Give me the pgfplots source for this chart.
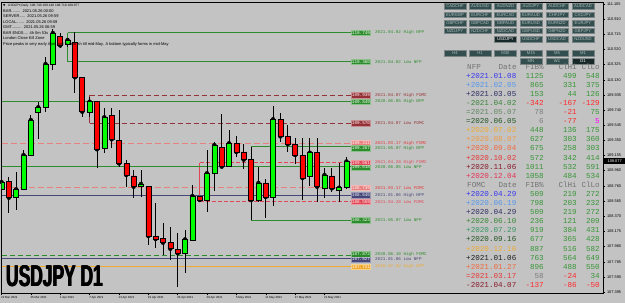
\documentclass[border=0pt]{standalone}
\usepackage{fontspec}
\setmainfont{Liberation Sans}
\newfontfamily\monofont{Liberation Mono}
\newfontfamily\djv{DejaVu Sans}
\usepackage{graphicx}
\usepackage{pgfplots}
\usepackage{pgfplotstable}
\pgfplotsset{compat=1.18}

\definecolor{mtbg}{RGB}{195,195,195}
\definecolor{bull}{RGB}{0,255,0}
\definecolor{bear}{RGB}{255,0,0}
\definecolor{nfpgreen}{RGB}{45,140,45}
\definecolor{fomcdark}{RGB}{150,50,55}
\definecolor{fomcpink}{RGB}{232,128,128}
\definecolor{fomcred}{RGB}{225,70,85}
\definecolor{navyl}{RGB}{70,70,120}
\definecolor{orl}{RGB}{240,170,50}
\definecolor{btnfill}{RGB}{50,78,78}
\definecolor{btnsel}{RGB}{25,40,40}
\definecolor{btntxt}{RGB}{175,190,190}
\definecolor{hdr}{RGB}{115,115,115}
\definecolor{ng}{RGB}{55,150,55}
\definecolor{nr}{RGB}{255,40,40}
\definecolor{ngray}{RGB}{125,125,125}
\definecolor{npink}{RGB}{255,0,255}
\definecolor{dblue}{RGB}{55,55,240}
\definecolor{lblue}{RGB}{85,150,235}
\definecolor{navyt}{RGB}{45,45,100}
\definecolor{dgreen}{RGB}{55,135,55}
\definecolor{ggreen}{RGB}{100,135,100}
\definecolor{dkgreen}{RGB}{35,85,35}
\definecolor{mgreen}{RGB}{55,150,100}
\definecolor{or1}{RGB}{240,170,50}
\definecolor{or2}{RGB}{240,155,70}
\definecolor{or3}{RGB}{240,105,60}
\definecolor{red1}{RGB}{230,55,55}
\definecolor{dred}{RGB}{135,25,40}
\definecolor{crim}{RGB}{230,50,85}
\definecolor{blk}{RGB}{30,30,30}

\newcommand\datefont{\fontsize{2.9bp}{3.3bp}\selectfont}
\newcommand\pricefont{\fontsize{3.9bp}{4.3bp}\selectfont}
\newcommand\lblfont{\monofont\fontsize{4.3bp}{4.6bp}\selectfont}
\newcommand\infofont{\fontsize{4bp}{4.4bp}\selectfont}
\newcommand\tabfont{\monofont\fontsize{7.6bp}{8bp}\selectfont}
\newcommand\btnfont{\fontsize{4.2bp}{4.5bp}\selectfont}

\pgfplotstableread{
x o h l c
0 108.722 108.864 108.684 108.812
1 108.825 108.881 108.409 108.610
2 108.610 108.945 108.452 108.718
3 108.718 109.225 108.709 109.160
4 109.160 109.675 109.147 109.611
5 109.714 109.847 109.362 109.775
6 109.775 110.426 109.718 110.332
7 110.332 110.783 110.255 110.731
8 110.684 110.731 110.538 110.571
9 110.583 110.667 110.555 110.641
10 110.607 110.748 109.955 110.161
11 110.161 110.165 109.653 109.718
12 109.714 109.911 109.653 109.847
13 109.847 109.856 108.989 109.234
14 109.246 109.762 109.182 109.646
15 109.675 109.762 109.246 109.362
16 109.353 109.740 109.010 109.053
17 109.053 109.096 108.752 108.903
18 108.890 108.967 108.602 108.752
19 108.752 108.967 108.623 108.787
20 108.761 108.761 108.001 108.117
21 108.117 108.546 107.959 108.078
22 108.087 108.281 107.872 108.031
23 108.031 108.237 107.808 107.953
24 107.945 108.152 107.464 107.894
25 107.894 108.194 107.637 108.074
26 108.065 108.774 108.056 108.632
27 108.623 108.632 108.559 108.581
28 108.581 109.225 108.430 108.925
29 108.925 109.331 108.700 109.289
30 109.254 109.684 109.010 109.010
31 109.018 109.482 109.006 109.311
32 109.311 109.400 109.130 109.200
33 109.200 109.300 108.980 109.100
34 109.100 109.267 108.323 108.580
35 108.580 109.000 108.550 108.800
36 108.800 108.850 108.350 108.620
37 108.620 109.790 108.500 109.620
38 109.620 109.700 109.330 109.400
39 109.400 109.550 109.200 109.300
40 109.300 109.380 109.050 109.160
41 109.160 109.380 108.581 108.864
42 108.881 109.380 108.760 109.190
43 109.190 109.380 108.559 108.752
44 108.731 108.993 108.606 108.903
45 108.890 108.993 108.688 108.731
46 108.710 109.061 108.559 108.739
47 108.740 109.140 108.719 109.077
}\ohlc

\newcommand{\lvl}[5]{%
  \node[fill=#4, draw=#4!55!white, line width=0.3bp, text=white, font=\lblfont, inner sep=0bp, minimum width=19bp, minimum height=5.6bp] at (axis cs:48.98,#1) {#2};
  \node[anchor=west, text=#5, font=\lblfont, inner sep=0bp] at (axis cs:50.88,#1) {#3};}

\newcommand{\trow}[9]{%
  \node[anchor=base west, text=#2] at (466,#1) {#3};
  \node[anchor=base east, text=#4] at (544,#1) {#5};
  \node[anchor=base east, text=#6] at (577,#1) {#7};
  \node[anchor=base east, text=#8] at (600,#1) {#9};}

\newcommand{\btn}[3]{\node[fill=btnfill, draw=btntxt!70!black, line width=0.3bp, text=btntxt, font=\btnfont, inner sep=0bp, minimum width=22bp, minimum height=5.8bp] at (#1,#2) {#3};}
\newcommand{\btnS}[3]{\node[fill=btnsel, draw=btntxt!70!black, line width=0.3bp, text=white, font=\btnfont, inner sep=0bp, minimum width=22bp, minimum height=5.8bp] at (#1,#2) {#3};}

\begin{document}
\begin{tikzpicture}
\fill[mtbg] (0,0) rectangle (625bp,303bp);
\useasboundingbox (0,0) rectangle (625bp,303bp);

\begin{axis}[
  at={(1.5bp,10bp)}, anchor=south west,
  width=601.5bp, height=291bp, scale only axis,
  xmin=0, xmax=81.95, ymin=107.383, ymax=111.131,
  axis line style={black, line width=0.5bp},
  xtick={0,4,8,12,16,20,24,28,32,36,40,44},
  xticklabels={22 Mar 2021, 26 Mar 2021, 1 Apr 2021, 7 Apr 2021, 13 Apr 2021, 19 Apr 2021, 23 Apr 2021, 29 Apr 2021, 5 May 2021, 11 May 2021, 17 May 2021, 21 May 2021},
  xtick pos=bottom, ytick pos=right, yticklabel pos=right,
  tick align=outside, major tick length=2bp,
  tick style={black, line width=0.4bp},
  xticklabel style={anchor=north west, font=\datefont, inner sep=0.3bp, xshift=-0.8bp, yshift=-0.5bp},
  ytick={111.105,110.910,110.715,110.520,110.325,110.130,109.935,109.740,109.545,109.350,109.155,108.960,108.760,108.565,108.370,108.175,107.980,107.785,107.590,107.395},
  yticklabels={111.105,110.910,110.715,110.520,110.325,110.130,109.935,109.740,109.545,109.350,109.155,108.960,108.760,108.565,108.370,108.175,107.980,107.785,107.590,107.395},
  yticklabel style={anchor=west, font=\pricefont, inner sep=0.3bp, xshift=1.5bp},
]
% level lines: rectangles anchored at event bars
\addplot[nfpgreen, line width=0.7bp] coordinates {(9,110.735) (47.75,110.735)};
\addplot[nfpgreen, line width=0.7bp] coordinates {(9,110.362) (47.75,110.362)};
\addplot[nfpgreen, line width=0.7bp] coordinates {(9,110.735) (9,110.362)};
\addplot[fomcdark, line width=0.7bp, dash pattern=on 5bp off 3bp] coordinates {(12,109.933) (47.75,109.933)};
\addplot[fomcdark, line width=0.7bp, dash pattern=on 5bp off 3bp] coordinates {(12,109.568) (47.75,109.568)};
\addplot[fomcdark, line width=0.7bp] coordinates {(12,109.933) (12,109.568)};
\addplot[fomcred, line width=0.7bp, dash pattern=on 4bp off 2bp] coordinates {(27,109.061) (47.75,109.061)};
\addplot[fomcred, line width=0.7bp, dash pattern=on 4bp off 2bp] coordinates {(27,108.559) (47.75,108.559)};
\addplot[fomcred, line width=0.7bp] coordinates {(27,109.061) (27,108.559)};
\addplot[nfpgreen, line width=0.7bp] coordinates {(34,109.267) (47.75,109.267)};
\addplot[nfpgreen, line width=0.7bp] coordinates {(34,108.323) (47.75,108.323)};
\addplot[nfpgreen, line width=0.7bp] coordinates {(34,109.267) (34,108.323)};
% full-width lines
\addplot[nfpgreen, line width=0.7bp] coordinates {(0,109.847) (47.75,109.847)};
\addplot[fomcpink, line width=1.4bp, dash pattern=on 6bp off 3bp] coordinates {(0,109.311) (47.75,109.311)};
\addplot[nfpgreen, line width=0.7bp] coordinates {(0,109.018) (47.75,109.018)};
\addplot[fomcpink, line width=1.4bp, dash pattern=on 6bp off 3bp] coordinates {(0,108.739) (47.75,108.739)};
\addplot[navyl, line width=0.7bp] coordinates {(0,108.645) (47.75,108.645)};
\addplot[nfpgreen, line width=0.7bp, dash pattern=on 5bp off 3bp] coordinates {(0,107.872) (47.75,107.872)};
\addplot[navyl, line width=0.7bp] coordinates {(0,107.827) (47.75,107.827)};
\addplot[orl, line width=1.2bp] coordinates {(0,107.721) (47.75,107.721)};
% wicks
\addplot[only marks, mark=none, error bars/.cd, y dir=both, y explicit, error mark=none,
  error bar style={draw=black, solid, line width=0.8bp}]
  table[x=x, y=c, y error plus expr=\thisrow{h}-\thisrow{c}, y error minus expr=\thisrow{c}-\thisrow{l}] {\ohlc};
% labels
\lvl{110.735}{110.749}{2021.04.02 High NFP}{nfpgreen}{nfpgreen}
\lvl{110.362}{110.360}{2021.04.02 Low NFP}{nfpgreen}{nfpgreen}
\lvl{109.933}{109.939}{2021.04.07 High FOMC}{fomcdark}{fomcdark}
\lvl{109.847}{109.849}{2020.06.05 High NFP}{nfpgreen}{nfpgreen}
\lvl{109.568}{109.570}{2021.04.07 Low FOMC}{fomcdark}{fomcdark}
\lvl{109.311}{109.311}{2021.03.17 High FOMC}{fomcpink}{red1}
\lvl{109.250}{109.267}{2021.05.07 High NFP}{nfpgreen}{nfpgreen}
\lvl{109.061}{109.061}{2021.04.28 High FOMC}{fomcred}{fomcred}
\lvl{109.000}{109.018}{2020.06.05 Low NFP}{nfpgreen}{nfpgreen}
\lvl{108.739}{108.739}{2021.03.17 Low FOMC}{fomcpink}{red1}
\lvl{108.645}{108.645}{2021.01.06 High NFP}{navyl}{navyl}
\lvl{108.559}{108.559}{2021.04.28 Low FOMC}{fomcred}{fomcred}
\lvl{108.323}{108.323}{2021.05.07 Low NFP}{nfpgreen}{nfpgreen}
\lvl{107.880}{107.872}{2020.06.10 High FOMC}{nfpgreen}{nfpgreen}
\lvl{107.815}{107.827}{2021.01.06 Low NFP}{navyl}{navyl}
\lvl{107.721}{107.721}{2020.07.02 High NFP}{orl}{orl}
\end{axis}

% candle bodies (prices offset by 107 for the stacking base)
\begin{axis}[
  at={(1.5bp,10bp)}, anchor=south west,
  width=601.5bp, height=291bp, scale only axis, hide axis,
  xmin=0, xmax=81.95, ymin=0.383, ymax=4.131,
  ybar stacked, bar width=5bp,
]
\addplot[draw=none, fill=none] table[x=x, y expr={min(\thisrow{o},\thisrow{c})-107}] {\ohlc};
\addplot[fill=bull, draw=black, line width=0.5bp] table[x=x, y expr={max(\thisrow{c}-\thisrow{o},0)}] {\ohlc};
\addplot[fill=bear, draw=black, line width=0.5bp] table[x=x, y expr={max(\thisrow{o}-\thisrow{c},0)}] {\ohlc};
\end{axis}

\begin{scope}[x=1bp, y=-1bp, shift={(0bp,303bp)}]
% info text
\node[anchor=base west, inner sep=0] at (3,7) {\djv\fontsize{3bp}{3bp}\selectfont ▼};
\node[anchor=base west, inner sep=0, font=\fontsize{3.2bp}{3.5bp}\selectfont] at (8,7) {USDJPY,Daily\ \ 108.740 109.140 108.719 109.077};
\begin{scope}[every node/.style={anchor=base west, inner sep=0, font=\infofont}]
\node at (3,12.5) {BAR........\ \ 2021.05.26 00:00};
\node at (3,18) {SERVER.....\ \ 2021.05.26 09:59};
\node at (3,23.5) {LOCAL.......\ \ 2021.05.26 09:59};
\node at (3,29) {GMT.........\ \ 2021.05.26 06:59};
\node at (3,34.5) {BAR ENDS.... 4h 0m 53s};
\node at (3,40) {London Close Kill Zone};
\node at (3,45.5) {Price peaks in very early April and is bearish till mid-May. A bottom typically forms in mid-May};
\end{scope}
% title
\foreach \dx in {-0.5,0,0.5}{
\node[anchor=base west, inner sep=0, text=black] at (6+\dx,287) {\scalebox{0.58}[1]{\fontsize{30bp}{30bp}\selectfont\bfseries USDJPY D1}};}
% current price
\node[fill=black, text=white, font=\pricefont, inner sep=0.4bp, minimum width=21bp, minimum height=6bp, anchor=west] at (604,161.5) {109.077};
% buttons
\btn{455}{6.3}{CADCHF}\btn{480}{6.3}{AUDUSD}\btn{505.5}{6.3}{AUDNZD}\btn{531}{6.3}{AUDJPY}\btn{557}{6.3}{AUDCHF}\btn{583}{6.3}{AUDCAD}
\btn{455}{14.6}{EURGBP}\btn{480}{14.6}{EURCHF}\btn{505.5}{14.6}{EURCAD}\btn{531}{14.6}{EURAUD}\btn{557}{14.6}{CHFJPY}\btn{583}{14.6}{CADJPY}
\btn{455}{22.9}{GBPCHF}\btn{480}{22.9}{GBPCAD}\btn{505.5}{22.9}{GBPAUD}\btn{531}{22.9}{EURUSD}\btn{557}{22.9}{EURNZD}\btn{583}{22.9}{EURJPY}
\btn{455}{30.6}{NZDJPY}\btn{480}{30.6}{NZDCHF}\btn{505.5}{30.6}{NZDCAD}\btn{531}{30.6}{GBPUSD}\btn{557}{30.6}{GBPNZD}\btn{583}{30.6}{GBPJPY}
\btnS{505.5}{38.8}{USDJPY}\btn{531}{38.8}{USDCHF}\btn{557}{38.8}{USDCAD}\btn{583}{38.8}{NZDUSD}
\btn{455}{52.9}{H4}\btn{480}{52.9}{H1}\btn{505.5}{52.9}{M30}\btn{531}{52.9}{M15}\btn{557}{52.9}{M5}\btn{583}{52.9}{M1}
\btn{531}{61.2}{MN}\btn{557}{61.2}{W1}\btnS{583}{61.2}{D1}
% table
\begin{scope}[every node/.style={inner sep=0, font=\tabfont}]
\node[anchor=base west, text=hdr] at (467,69.2) {NFP};
\node[anchor=base east, text=hdr] at (517,69.2) {Date};
\node[anchor=base east, text=hdr] at (544,69.2) {FIB\%};
\node[anchor=base east, text=hdr] at (577,69.2) {ClHi};
\node[anchor=base east, text=hdr] at (600,69.2) {ClLo};
\trow{78.2}{dblue}{+2021.01.08}{ng}{1125}{ng}{499}{ng}{548}
\trow{87.3}{lblue}{+2021.02.05}{ng}{865}{ng}{331}{ng}{375}
\trow{96.4}{navyt}{+2021.03.05}{ng}{153}{ng}{44}{ng}{126}
\trow{105.5}{dgreen}{-2021.04.02}{nr}{-342}{nr}{-167}{nr}{-129}
\trow{114.6}{ggreen}{=2021.05.07}{ngray}{78}{nr}{-21}{ng}{75}
\trow{123.7}{dkgreen}{=2020.06.05}{ngray}{6}{nr}{-77}{npink}{5}
\trow{132.8}{or1}{+2020.07.02}{ng}{448}{ng}{136}{ng}{175}
\trow{141.9}{or2}{+2020.08.07}{ng}{627}{ng}{303}{ng}{360}
\trow{151.0}{or3}{+2020.09.04}{ng}{675}{ng}{258}{ng}{303}
\trow{160.1}{red1}{+2020.10.02}{ng}{572}{ng}{342}{ng}{414}
\trow{169.2}{dred}{+2020.11.06}{ng}{1011}{ng}{532}{ng}{591}
\trow{178.3}{crim}{+2020.12.04}{ng}{1058}{ng}{484}{ng}{534}
\node[anchor=base west, text=hdr] at (467,187.5) {FOMC};
\node[anchor=base east, text=hdr] at (517,187.5) {Date};
\node[anchor=base east, text=hdr] at (544,187.5) {FIB\%};
\node[anchor=base east, text=hdr] at (577,187.5) {ClHi};
\node[anchor=base east, text=hdr] at (600,187.5) {ClLo};
\trow{196.5}{dblue}{+2020.04.29}{ng}{509}{ng}{219}{ng}{272}
\trow{205.6}{lblue}{+2020.06.19}{ng}{798}{ng}{203}{ng}{232}
\trow{214.7}{navyt}{+2020.04.29}{ng}{509}{ng}{219}{ng}{272}
\trow{223.8}{dgreen}{+2020.06.10}{ng}{236}{ng}{121}{ng}{209}
\trow{232.9}{mgreen}{+2020.07.29}{ng}{919}{ng}{384}{ng}{431}
\trow{242.0}{dkgreen}{+2020.09.16}{ng}{677}{ng}{365}{ng}{428}
\trow{251.1}{or1}{+2020.12.16}{ng}{887}{ng}{516}{ng}{582}
\trow{260.2}{blk}{+2021.01.06}{ng}{763}{ng}{564}{ng}{649}
\trow{269.3}{or3}{+2021.01.27}{ng}{896}{ng}{488}{ng}{550}
\trow{278.4}{red1}{=2021.03.17}{ngray}{58}{nr}{-24}{ng}{34}
\trow{287.5}{dred}{-2021.04.07}{nr}{-137}{nr}{-86}{nr}{-50}
\end{scope}
\end{scope}
\end{tikzpicture}
\end{document}
